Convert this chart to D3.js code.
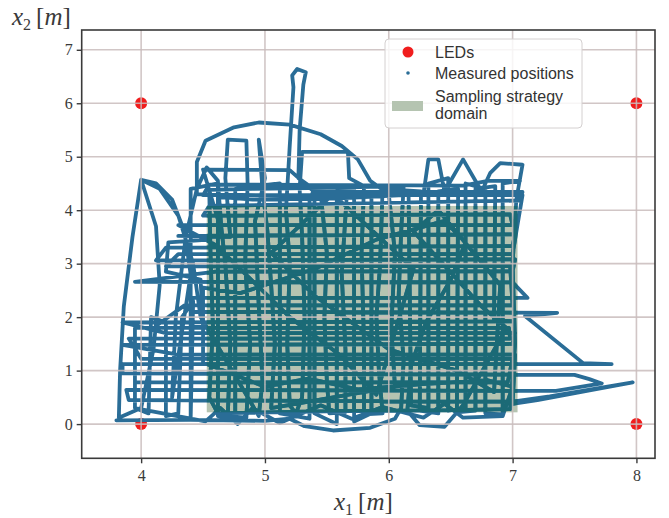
<!DOCTYPE html>
<html>
<head>
<meta charset="utf-8">
<script src="https://cdn.jsdelivr.net/npm/d3@7"></script>
<style>
  html, body { margin: 0; padding: 0; background: #fff; }
  svg { display: block; }
</style>
</head>
<body>
<svg id="chart" width="669" height="518"></svg>
<script>
// ---------- data ----------
const xTicks = [4, 5, 6, 7, 8];
const yTicks = [0, 1, 2, 3, 4, 5, 6, 7];
const xDomain = [3.52, 8.15];
const yDomain = [-0.64, 7.37];

const ledX = [4, 8, 4, 8];
const ledY = [0, 0, 6, 6];

const domainX = [4.53, 7.04];
const domainY = [0.22, 4.08];

const legendLabels = ["LEDs", "Measured positions", "Sampling strategy", "domain"];

// measured trajectory (x1, x2)
const trajectory = [
  [3.80,0.07],[4.40,0.08],[5.00,0.06],[5.20,0.10],[5.32,-0.04],[5.55,-0.12],[5.85,-0.07],[6.05,0.10],[6.10,0.30],
  [6.12,1.20],[6.08,2.40],[6.10,3.60],[6.12,4.45],[5.50,4.42],[4.90,4.40],[4.55,4.38],
  [4.56,3.20],[4.58,1.80],[4.55,0.50],[4.62,0.20],[5.50,0.24],[6.50,0.26],[6.98,0.28],
  [7.02,1.50],[7.00,3.00],[7.03,4.20],[7.08,4.85],[6.90,4.88],[6.82,4.70],[6.75,4.35],
  [6.60,4.95],[6.45,4.35],[6.40,4.95],[6.32,4.95],[6.28,4.30],[5.60,4.22],[4.90,4.20],[4.62,4.25],
  [4.68,3.00],[4.72,1.50],[4.70,0.15],[4.85,0.12],[4.88,1.50],[4.84,3.00],[4.86,4.50],[4.85,5.30],
  [4.70,5.32],[4.68,4.60],[4.72,3.50],
  [4.30,3.52],[7.02,3.55],[7.00,3.33],[4.20,3.30],[4.12,3.06],[7.02,3.08],[7.00,2.86],[4.60,2.85],
  [3.95,2.66],[7.00,2.65],[7.12,2.36],[4.40,2.36],[4.40,2.10],[7.36,2.08],[7.10,2.02],[7.57,1.14],
  [7.80,1.12],[3.85,1.12],[3.85,0.95],[7.50,0.92],[7.62,0.84],[7.72,0.76],[7.35,0.62],[3.88,0.64],
  [3.90,0.45],[7.00,0.42],[7.30,0.52],[7.97,0.78],[7.60,0.62],[7.20,0.45],[7.00,0.38],
  [7.02,1.30],[4.30,1.30],[3.85,1.48],[7.00,1.50],[7.02,1.70],[4.20,1.70],[3.85,1.90],[7.00,1.92],
  [6.85,1.95],[6.86,4.45],[6.70,4.40],[6.70,0.25],[6.55,0.22],[6.56,4.40],[6.40,4.35],[6.40,0.20],
  [6.25,0.25],[6.26,4.35],[5.95,4.40],[5.93,3.00],[5.90,2.00],[5.92,1.00],[5.95,0.20],[5.80,0.18],
  [5.80,1.50],[5.78,3.20],[5.80,4.45],[5.68,4.60],[5.67,5.09],[5.30,5.09],[5.28,4.40],
  [5.30,3.50],[5.32,2.00],[5.30,0.50],[5.25,0.20],[5.20,0.35],[5.18,1.50],[5.20,3.00],[5.17,4.00],
  [5.20,5.20],[5.23,6.30],[5.22,6.52],[5.26,6.64],[5.33,6.58],[5.31,6.35],[5.28,5.50],[5.27,4.60],
  [5.45,4.30],[5.50,3.20],[5.48,2.00],[5.50,0.80],[5.52,0.20],[5.65,0.22],[5.65,1.40],[5.62,2.80],
  [5.66,4.25],
  [4.45,4.30],[4.45,4.90],[4.52,5.30],[4.75,5.55],[4.95,5.64],[5.20,5.60],[5.45,5.42],[5.62,5.20],
  [5.75,4.95],[5.85,4.55],[6.00,4.30],[6.05,3.20],[6.02,1.80],[6.05,0.70],
  [5.05,0.30],[5.08,1.50],[5.05,2.60],[5.02,3.60],[4.98,4.40],[4.95,5.32],[5.00,4.60],
  [4.92,3.80],[4.95,2.20],[4.98,0.80],[4.95,0.15],
  [4.48,2.00],[4.42,3.00],[4.30,3.90],[4.15,4.40],[4.00,4.57],[3.93,3.50],[3.86,2.20],[3.83,1.00],
  [3.82,0.12],[4.00,0.30],[4.10,1.40],[4.15,2.60],[4.12,3.70],[4.00,4.57],[4.12,4.50],[4.25,4.20],
  [4.35,3.60],[4.40,2.80],
  [4.25,0.50],[4.28,2.00],[4.36,3.50],[4.45,4.40],[4.53,4.80],[4.62,4.55],[4.65,3.60],
  [4.50,4.76],[5.20,4.75],[5.40,4.34],[7.08,4.34],[7.05,4.18],[4.55,4.08],[4.50,3.90],[6.98,3.92],
  [7.00,3.72],[4.30,3.72],
  [4.60,3.35],[5.20,2.00],[5.60,1.30],[5.90,0.55],
  [6.20,2.90],[5.55,4.30],[5.05,3.20],[5.40,2.40],[6.00,1.40],[6.55,1.00],[6.85,0.60],
  [6.90,2.60],[6.40,4.00],[6.20,3.60],[6.75,2.20],[6.95,1.80],
  [6.60,0.35],[6.45,-0.05],[6.25,-0.02],[6.15,0.25],[6.18,1.10],[6.30,1.90],
  [6.50,2.70],[6.62,3.40],[6.45,3.80],[5.90,3.45],[5.40,2.90],[4.80,2.45],[4.50,2.55],
  [4.50,1.15],[5.00,0.70],[5.35,0.85],[5.75,0.65],[6.30,0.75],[6.80,0.82],[7.00,0.70],
  [6.92,0.15],[6.60,0.12],[6.45,0.38],[6.28,0.12],[5.95,0.32],[5.70,0.10],[5.45,0.35],
  [5.12,0.02],[4.90,0.30],[4.78,0.00],[4.64,0.30],[4.52,0.05],
  [3.95,0.30],[3.95,0.78],[6.96,0.78],[7.00,1.22],[4.00,1.22],[3.90,1.60],[6.98,1.60],[6.97,1.80],
  [4.10,1.80],[4.35,2.22],[7.00,2.22],[6.98,2.96],[4.20,2.95],[4.30,3.18],[7.00,3.18],
  [7.08,4.28],[4.50,4.28],[4.55,4.48],[6.60,4.46],[6.80,4.55],[7.06,4.55],
  [6.92,4.50],[6.92,0.18],[6.78,0.20],[6.78,4.40],[6.62,4.50],[6.62,0.30],[6.48,0.25],[6.48,4.60],
  [6.32,4.50],[6.32,0.30],[6.18,0.35],[6.16,4.30],[5.86,4.30],[5.86,0.20],[5.72,0.05],[5.72,4.40],
  [5.58,4.35],[5.58,0.00],[5.40,0.20],[5.40,4.40],[5.36,4.20],[5.36,0.10],[5.12,0.20],[5.12,4.50],
  [4.76,4.40],[4.76,0.10],[4.62,0.15],[4.62,4.50],
  [4.40,4.40],[4.40,0.10],[4.42,2.30],[4.33,2.00],[4.30,0.20],[4.20,0.15],[4.20,1.90],[4.08,2.00],
  [4.06,0.20],[3.95,0.30],[3.95,1.80],[4.50,1.82],[4.48,2.70],[4.20,2.85],[4.22,3.40],[4.55,3.45]
];
</script>
<script>
(function () {
const pL = 81.7, pR = 655, pT = 30, pB = 458.3;
const svg = d3.select("#chart");

const x = d3.scaleLinear().domain(xDomain).range([pL, pR]);
const y = d3.scaleLinear().domain(yDomain).range([pB, pT]);

const defs = svg.append("defs");
defs.append("clipPath").attr("id", "plotclip")
  .append("rect").attr("x", pL).attr("y", pT).attr("width", pR - pL).attr("height", pB - pT);
const rx0 = x(domainX[0]), ry0 = y(domainY[1]);
const rw = x(domainX[1]) - x(domainX[0]), rh = y(domainY[0]) - y(domainY[1]);
defs.append("clipPath").attr("id", "domclip")
  .append("rect").attr("x", rx0).attr("y", ry0).attr("width", rw).attr("height", rh);

const plot = svg.append("g");

// LEDs (under trajectory)
const leds = ledX.map((v, i) => ({ x: v, y: ledY[i] }));
plot.append("g").selectAll("circle").data(leds).join("circle")
  .attr("cx", d => x(d.x)).attr("cy", d => y(d.y)).attr("r", 6)
  .attr("fill", "#f01d1d");

const sage = "#b5c4b1";
const blue = "#2a6d97";
const teal = "#1b6a76";

// sampling strategy domain
plot.append("rect")
  .attr("x", rx0).attr("y", ry0).attr("width", rw).attr("height", rh)
  .attr("fill", sage);

// trajectory
const line = d3.line().x(d => x(d[0])).y(d => y(d[1])).curve(d3.curveLinear);
const pathD = line(trajectory);
plot.append("path")
  .attr("clip-path", "url(#plotclip)")
  .attr("d", pathD)
  .attr("fill", "none").attr("stroke", blue).attr("stroke-width", 3.8)
  .attr("stroke-linejoin", "round").attr("stroke-linecap", "round");
// same trajectory as seen through the translucent domain patch
plot.append("path")
  .attr("clip-path", "url(#domclip)")
  .attr("d", pathD)
  .attr("fill", "none").attr("stroke", teal).attr("stroke-width", 3.8)
  .attr("stroke-linejoin", "round").attr("stroke-linecap", "round");

// grid (on top of data)
const grid = svg.append("g").attr("stroke", "#c9bcbc").attr("stroke-width", 1.6).attr("stroke-opacity", 0.85);
grid.selectAll("line.gx").data(xTicks).join("line").attr("class", "gx")
  .attr("x1", d => x(d)).attr("x2", d => x(d)).attr("y1", pT).attr("y2", pB);
grid.selectAll("line.gy").data(yTicks).join("line").attr("class", "gy")
  .attr("x1", pL).attr("x2", pR).attr("y1", d => y(d)).attr("y2", d => y(d));

// axes
const axisColor = "#3a3a3a";
const xAxis = svg.append("g").attr("transform", `translate(0,${pB})`)
  .call(d3.axisBottom(x).tickValues(xTicks).tickFormat(d3.format("d")).tickSize(5).tickSizeOuter(0));
const yAxis = svg.append("g").attr("transform", `translate(${pL},0)`)
  .call(d3.axisLeft(y).tickValues(yTicks).tickFormat(d3.format("d")).tickSize(5).tickSizeOuter(0));
[xAxis, yAxis].forEach(a => {
  a.select(".domain").remove();
  a.selectAll(".tick line").attr("stroke", axisColor).attr("stroke-width", 1.4);
  a.selectAll(".tick text").attr("fill", "#3a3a3a")
    .attr("font-family", "'Liberation Serif', 'DejaVu Serif', serif").attr("font-size", 16);
});
xAxis.selectAll(".tick text").attr("dy", "0.95em").attr("y", 8);
yAxis.selectAll(".tick text").attr("x", -9);

svg.append("rect").attr("x", pL).attr("y", pT).attr("width", pR - pL).attr("height", pB - pT)
  .attr("fill", "none").attr("stroke", axisColor).attr("stroke-width", 1.6);

// axis titles
function mathLabel(g, sub) {
  const t = g.append("text").attr("font-family", "'Liberation Serif', 'DejaVu Serif', serif")
    .attr("font-size", 25).attr("fill", "#3a3a3a");
  t.append("tspan").attr("font-style", "italic").text("x");
  t.append("tspan").attr("font-size", 16).attr("dy", 5).text(sub);
  t.append("tspan").attr("dy", -5).attr("dx", 5).text("[");
  t.append("tspan").attr("font-style", "italic").text("m");
  t.append("tspan").text("]");
  return t;
}
mathLabel(svg, "2").attr("x", 12).attr("y", 25);
mathLabel(svg, "1").attr("x", 334).attr("y", 510);

// legend
const lg = svg.append("g");
lg.append("rect").attr("x", 385).attr("y", 39).attr("width", 197).attr("height", 89)
  .attr("rx", 4).attr("fill", "#fff").attr("fill-opacity", 0.82)
  .attr("stroke", "#d4d0d0").attr("stroke-width", 1);
lg.append("circle").attr("cx", 408).attr("cy", 52).attr("r", 5.5).attr("fill", "#f01d1d");
lg.append("circle").attr("cx", 408).attr("cy", 73).attr("r", 1.8).attr("fill", blue);
lg.append("rect").attr("x", 392).attr("y", 101).attr("width", 31).attr("height", 10)
  .attr("fill", sage);
const ly = [52, 73, 96, 113];
lg.selectAll("text").data(legendLabels).join("text")
  .attr("x", 435).attr("y", (d, i) => ly[i]).attr("dy", "0.35em")
  .attr("font-family", "'Liberation Sans', Arial, sans-serif").attr("font-size", 16)
  .attr("fill", "#333").text(d => d);
})();
</script>
</body>
</html>
